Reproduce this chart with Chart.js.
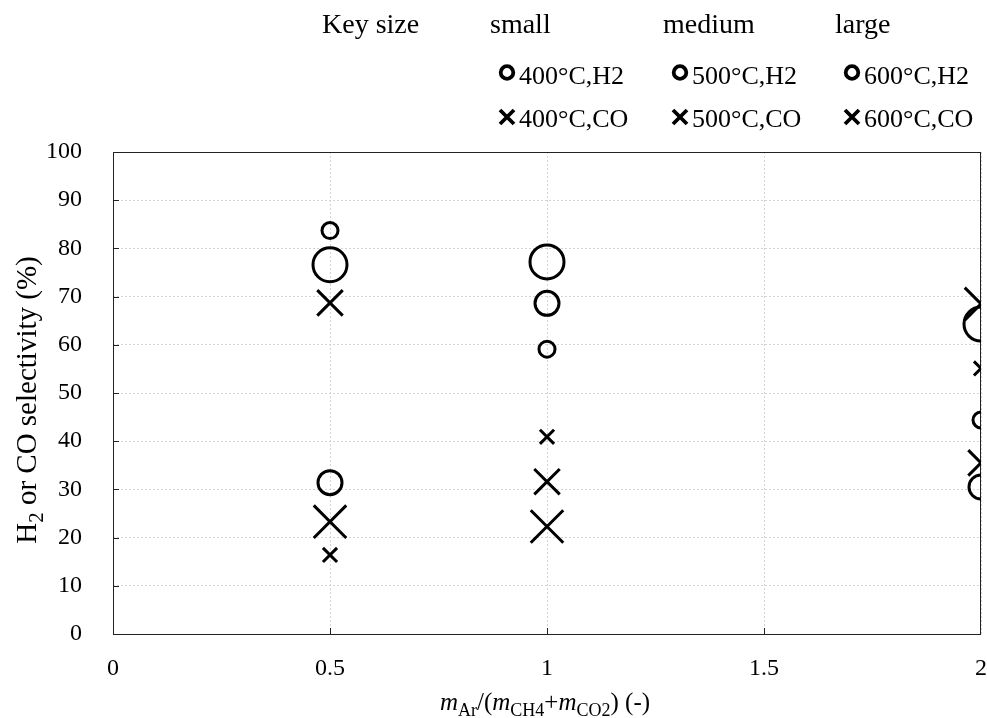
<!DOCTYPE html>
<html>
<head>
<meta charset="utf-8">
<script src="https://cdn.jsdelivr.net/npm/chart.js@4.4.1/dist/chart.umd.min.js"></script>
<style>
    body { margin: 0; background: #fff; }
    #wrap { width: 987px; height: 718px; }
</style>
</head>
<body>
<div id="wrap"><canvas id="selChart" width="987" height="718"></canvas></div>
<script>
// Data
const xValues = [0.5, 1, 2];
const h2At400 = [83.7, 59.1, 44.4];
const h2At500 = [31.4, 68.6, 30.5];
const h2At600 = [76.6, 77.2, 64.3];
const coAt400 = [16.4, 40.9, 55.1];
const coAt500 = [68.7, 31.6, 35.5];
const coAt600 = [23.3, 22.3, 68.5];

const temps = ['400°C', '500°C', '600°C'];
const sizeNames = ['small', 'medium', 'large'];
const xTicks = [0, 0.5, 1, 1.5, 2];

// marker radii per size (circle, cross)
const circleRadius = [8, 12, 17];
const crossRadius = [10, 18, 23];

const SERIF = '"Liberation Serif", "Times New Roman", serif';

function toPoints(ys) {
    return xValues.map((x, i) => ({ x: x, y: ys[i] }));
}

function makeSet(label, ys, style, radius) {
    return {
        label: label,
        data: toPoints(ys),
        showLine: false,
        pointStyle: style,
        pointRadius: radius,
        pointHoverRadius: radius,
        pointBorderColor: '#000',
        pointBackgroundColor: 'rgba(0,0,0,0)',
        pointBorderWidth: 3,
        clip: 0
    };
}

const datasets = [
    makeSet(temps[0] + ',H2', h2At400, 'circle', circleRadius[0]),
    makeSet(temps[1] + ',H2', h2At500, 'circle', circleRadius[1]),
    makeSet(temps[2] + ',H2', h2At600, 'circle', circleRadius[2]),
    makeSet(temps[0] + ',CO', coAt400, 'crossRot', crossRadius[0]),
    makeSet(temps[1] + ',CO', coAt500, 'crossRot', crossRadius[1]),
    makeSet(temps[2] + ',CO', coAt600, 'crossRot', crossRadius[2])
];

// draw text runs with italic / subscript parts, returns width
function drawRuns(ctx, runs, x, y, size, measureOnly) {
    let cx = x;
    runs.forEach(r => {
        const fs = r.sub ? size * 0.72 : size;
        ctx.font = (r.italic ? 'italic ' : '') + fs + 'px ' + SERIF;
        const w = ctx.measureText(r.t).width;
        if (!measureOnly) ctx.fillText(r.t, cx, y + (r.sub ? size * 0.25 : 0));
        cx += w;
    });
    return cx - x;
}

const framePlugin = {
    id: 'frame',
    beforeDatasetsDraw(chart) {
        const { ctx, chartArea: a, scales } = chart;
        ctx.save();
        // plot border
        ctx.strokeStyle = '#222';
        ctx.lineWidth = 1;
        ctx.strokeRect(a.left + 0.5, a.top + 0.5, a.right - a.left - 1, a.bottom - a.top);
        // inside tick marks
        ctx.beginPath();
        for (let v = 10; v < 100; v += 10) {
            const py = Math.round(scales.y.getPixelForValue(v)) + 0.5;
            ctx.moveTo(a.left, py);
            ctx.lineTo(a.left + 6, py);
        }
        [0.5, 1, 1.5].forEach(v => {
            const px = Math.round(scales.x.getPixelForValue(v)) + 0.5;
            ctx.moveTo(px, a.bottom);
            ctx.lineTo(px, a.bottom - 6);
        });
        ctx.stroke();
        ctx.restore();
    },
    afterDraw(chart) {
        const { ctx } = chart;
        ctx.save();
        ctx.fillStyle = '#000';
        ctx.textBaseline = 'alphabetic';
        ctx.textAlign = 'left';

        // x axis title
        const xRuns = [
            { t: 'm', italic: true }, { t: 'Ar', sub: true }, { t: '/(' },
            { t: 'm', italic: true }, { t: 'CH4', sub: true }, { t: '+' },
            { t: 'm', italic: true }, { t: 'CO2', sub: true }, { t: ') (-)' }
        ];
        const xw = drawRuns(ctx, xRuns, 0, 0, 25, true);
        drawRuns(ctx, xRuns, 545 - xw / 2, 710, 25, false);

        // y axis title
        const yRuns = [{ t: 'H' }, { t: '2', sub: true }, { t: ' or CO selectivity (%)' }];
        const yw = drawRuns(ctx, yRuns, 0, 0, 29, true);
        ctx.translate(36, 400);
        ctx.rotate(-Math.PI / 2);
        drawRuns(ctx, yRuns, -yw / 2, 0, 29, false);
        ctx.setTransform(1, 0, 0, 1, 0, 0);

        // key
        ctx.font = '28px ' + SERIF;
        ctx.fillText('Key size', 322, 33);
        const colX = [490, 663, 835];
        sizeNames.forEach((s, i) => ctx.fillText(s, colX[i], 33));
        ctx.font = '26px ' + SERIF;
        ctx.lineWidth = 3.8;
        ctx.strokeStyle = '#000';
        temps.forEach((t, i) => {
            const mx = colX[i] + 17;
            ctx.beginPath();
            ctx.arc(mx, 72.5, 6.3, 0, Math.PI * 2);
            ctx.stroke();
            ctx.fillText(t + ',H2', mx + 12, 84);
            ctx.beginPath();
            ctx.moveTo(mx - 7, 110);
            ctx.lineTo(mx + 7, 124);
            ctx.moveTo(mx + 7, 110);
            ctx.lineTo(mx - 7, 124);
            ctx.stroke();
            ctx.fillText(t + ',CO', mx + 12, 127);
        });
        ctx.restore();
    }
};

const ctx = document.getElementById('selChart').getContext('2d');
const selChart = new Chart(ctx, {
    type: 'scatter',
    data: { datasets: datasets },
    options: {
        responsive: false,
        animation: false,
        layout: { autoPadding: false, padding: { top: 152, right: 6, left: 0, bottom: 0 } },
        plugins: {
            legend: { display: false },
            tooltip: { enabled: false }
        },
        scales: {
            x: {
                type: 'linear',
                min: 0,
                max: 2,
                afterBuildTicks: scale => { scale.ticks = xTicks.map(v => ({ value: v })); },
                afterFit: scale => {
                    scale.height = 84;
                    scale.paddingLeft = 0;
                    scale.paddingRight = 0;
                },
                grid: { color: '#d4d4d4', lineWidth: 1, drawTicks: false },
                border: { display: false, dash: [2, 2] },
                ticks: {
                    padding: 20,
                    color: '#000',
                    font: { family: SERIF, size: 24 },
                    callback: v => String(v)
                }
            },
            y: {
                min: 0,
                max: 100,
                afterFit: scale => {
                    scale.width = 113;
                    scale.paddingTop = 0;
                    scale.paddingBottom = 0;
                },
                grid: { color: '#d4d4d4', lineWidth: 1, drawTicks: false },
                border: { display: false, dash: [2, 2] },
                ticks: {
                    stepSize: 10,
                    padding: 31,
                    color: '#000',
                    font: { family: SERIF, size: 24 }
                }
            }
        }
    },
    plugins: [framePlugin]
});
</script>
</body>
</html>
